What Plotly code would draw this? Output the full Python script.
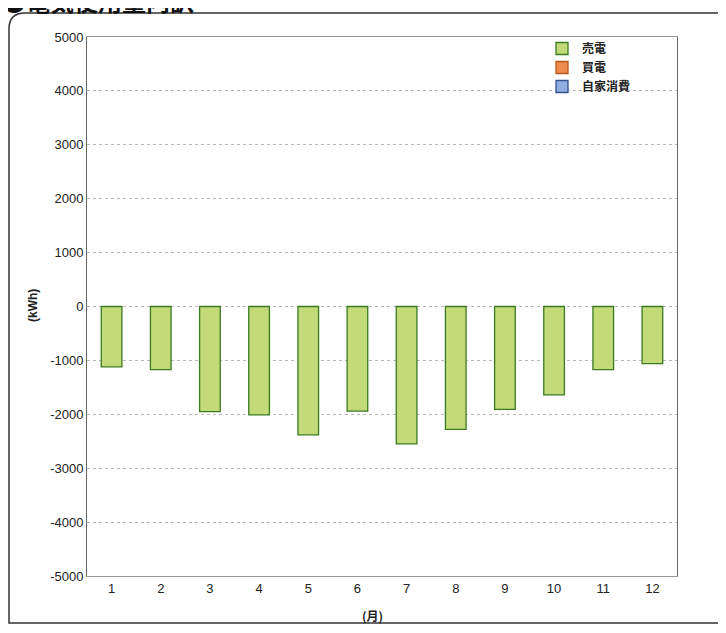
import plotly.graph_objects as go

months = [1, 2, 3, 4, 5, 6, 7, 8, 9, 10, 11, 12]
sell = [-1120, -1170, -1950, -2010, -2380, -1940, -2550, -2280, -1910, -1640, -1170, -1060]
buy = [None] * 12
self_use = [None] * 12
y_ticks = [5000, 4000, 3000, 2000, 1000, 0, -1000, -2000, -3000, -4000, -5000]
y_ticktext = [str(v) for v in y_ticks]
series_names = ["売電", "買電", "自家消費"]

# the page is drawn with an 8px body margin, so work in screen pixels minus 8
OFF = 8
W, H = 710, 617
L, R, T, B = 87 - OFF, 677 - OFF, 37 - OFF, 576 - OFF

def px(x):
    return (x - OFF - L) / (R - L)

def py(y):
    return (B - (y - OFF)) / (B - T)

fig = go.Figure()
fig.add_trace(go.Bar(x=months, y=sell, name=series_names[0], width=0.42,
                     marker=dict(color="#c2da78", line=dict(color="#3c7a22", width=1.3))))
fig.add_trace(go.Bar(x=months, y=buy, name=series_names[1], width=0.42,
                     marker=dict(color="#f08a4b", line=dict(color="#b85a20", width=1.3))))
fig.add_trace(go.Bar(x=months, y=self_use, name=series_names[2], width=0.42,
                     marker=dict(color="#8fb0e0", line=dict(color="#34508f", width=1.3))))

def P(x, y):
    return f"{px(x)},{py(y)}"

r = 16
fx0, fy0, fx1, fy1 = 9, 13, 730, 623
path = (f"M {P(fx0, fy0 + r)} Q {P(fx0, fy0)} {P(fx0 + r, fy0)} L {P(fx1, fy0)} "
        f"L {P(fx1, fy1)} L {P(fx0, fy1)} Z")

fig.update_layout(
    width=W, height=H,
    margin=dict(l=L, r=W - R, t=T, b=H - B),
    paper_bgcolor="white", plot_bgcolor="white",
    barmode="overlay",
    font=dict(family="Liberation Sans, Arial, sans-serif", size=13, color="#222"),
    showlegend=True,
    legend=dict(x=px(542), y=py(34), xanchor="left", yanchor="top",
                bgcolor="rgba(0,0,0,0)",
                font=dict(family="Noto Sans CJK JP", size=12, color="#222", weight="bold"),
                tracegroupgap=0, itemwidth=30),
    xaxis=dict(range=[0.5, 12.5], tickvals=months, ticktext=[str(m) for m in months],
               showgrid=False, showline=True, linecolor="#999", linewidth=1, mirror=True,
               ticks="", ticklen=0, zeroline=False),
    yaxis=dict(range=[-5000, 5000], tickvals=y_ticks, ticktext=y_ticktext,
               showgrid=True, gridcolor="#b8b8b8", griddash="dot", gridwidth=1,
               showline=True, linecolor="#666", linewidth=1, mirror=True,
               ticks="", zeroline=False),
    shapes=[dict(type="path", xref="paper", yref="paper", path=path,
                 line=dict(color="#333", width=1.5), fillcolor="rgba(0,0,0,0)", layer="below")],
    annotations=[
        dict(text="●電気使用量内訳", xref="paper", yref="paper", x=px(0), y=py(1),
             xanchor="left", yanchor="middle", showarrow=False,
             font=dict(family="Noto Sans CJK JP", size=24, color="#111", weight="bold")),
        dict(text="(kWh)", xref="paper", yref="paper", x=px(33), y=py(306),
             xanchor="center", yanchor="middle", showarrow=False, textangle=-90,
             font=dict(size=12, color="#222", weight="bold")),
        dict(text="(月)", xref="paper", yref="paper", x=px(372), y=py(615),
             xanchor="center", yanchor="middle", showarrow=False,
             font=dict(family="Noto Sans CJK JP", size=12, color="#222", weight="bold")),
    ],
)

fig.write_html("out.html")
